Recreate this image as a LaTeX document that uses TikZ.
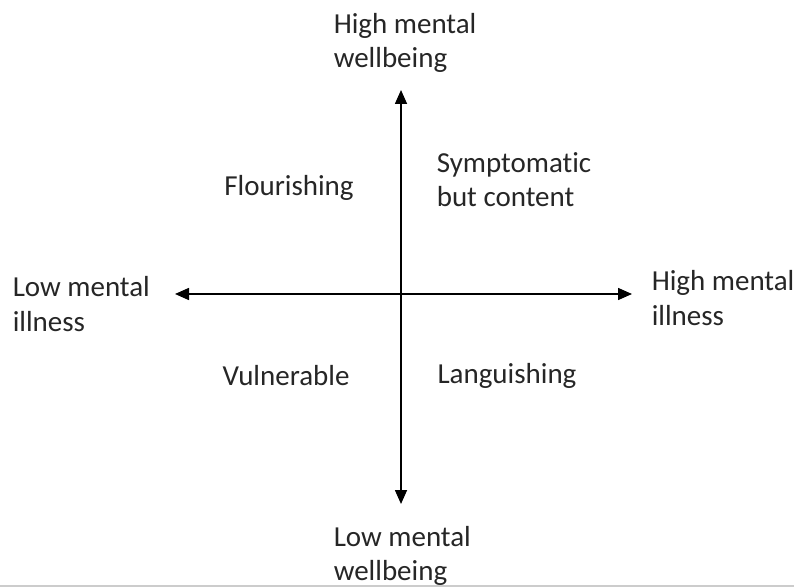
\documentclass[tikz,border=0pt]{standalone}
\usepackage{fontspec}
\setmainfont[Ligatures=NoCommon]{Carlito}
\usetikzlibrary{arrows.meta}
\begin{document}
\begin{tikzpicture}[x=0.02cm, y=-0.02cm, line width=0.9pt, >={Triangle[length=0.28cm,width=0.24cm]},label node/.style={font=\fontsize{16.5}{19.5}\selectfont, inner sep=0pt, text=black!85}]%
\useasboundingbox (0,0) rectangle (794,587);
\begin{scope}[every node/.style={label node}]
\node[align=left, anchor=west] (hw) at (333,43) {High mental\\wellbeing};
\node[align=left, anchor=west] (lw) at (333,556) {Low mental\\wellbeing};
\node[align=left, anchor=west] (li) at (12,304) {Low mental\\illness};
\node[align=left, anchor=west] (hi) at (651,298) {High mental\\illness};
\node (fl) at (289,188) {Flourishing};
\node[align=left, anchor=west] (sc) at (436,180) {Symptomatic\\but content};
\node (vu) at (286,376) {Vulnerable};
\node (la) at (507,376) {Languishing};
\end{scope}
\coordinate (top) at (401,90);
\coordinate (bot) at (401,504);
\coordinate (lft) at (175,294);
\coordinate (rgt) at (632,294);
\draw[<->] (bot) -- (top);
\draw[<->] (lft) -- (rgt);
\draw[black!20, line width=1.2pt] (0,586) -- (794,586);
\end{tikzpicture}
\end{document}
